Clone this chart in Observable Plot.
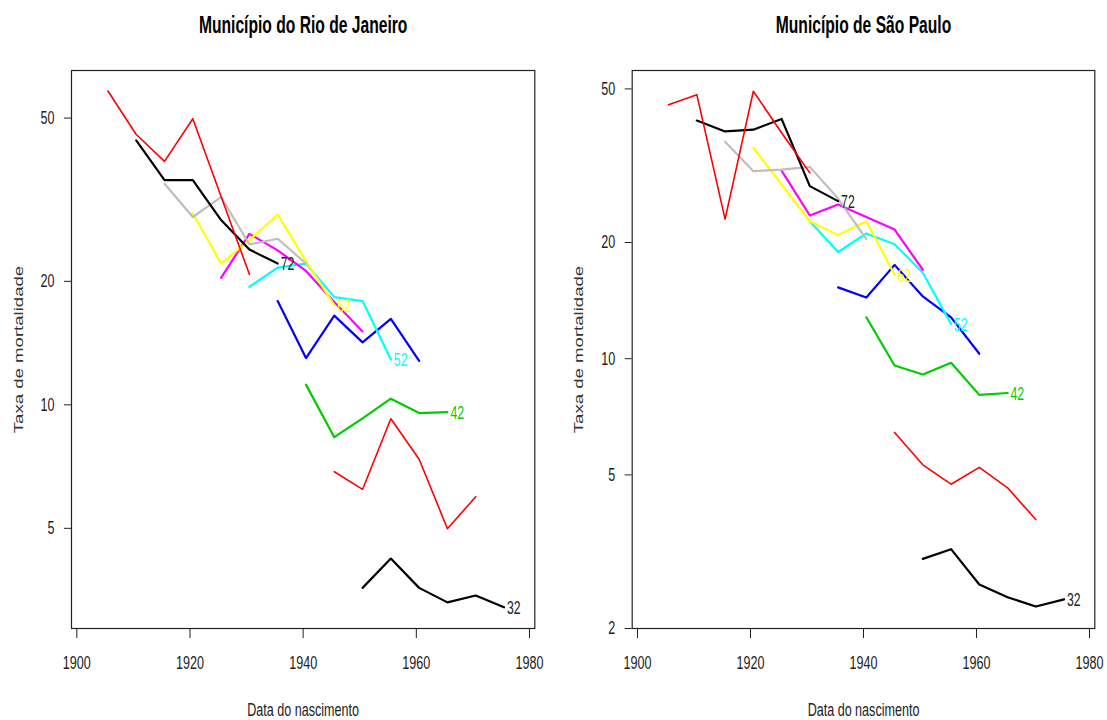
<!DOCTYPE html>
<html><head><meta charset="utf-8">
<script src="https://cdn.jsdelivr.net/npm/d3@7"></script>
<script src="https://cdn.jsdelivr.net/npm/@observablehq/plot@0.6"></script>
<style>
body{margin:0;background:#fff;}
#wrap{position:relative;width:1107px;height:720px;overflow:hidden;}
#left,#right{position:absolute;top:0;}
#left{left:0}
#right{left:553px}
</style></head><body><div id="wrap"><div id="left"></div><div id="right"></div></div>
<script>
// Age groups (series) and their R-palette colours
const ages = [32, 37, 42, 47, 52, 57, 62, 67, 72, 77];
const colors = ["#000000","#FF0000","#00CD00","#0000FF","#00FFFF","#FF00FF","#FFFF00","#BEBEBE","#000000","#FF0000"];
const labeledAges = [32, 42, 52, 62, 72];

// x tick labels (birth date) and y tick labels (mortality rate, log scale)
const xTicks = [1900, 1920, 1940, 1960, 1980];
const rioYTicks = [5, 10, 20, 50];
const spYTicks = [2, 5, 10, 20, 50];

// Município do Rio de Janeiro: [birth year, rate]
const rio32 = [[1950.5,3.58],[1955.5,4.22],[1960.5,3.58],[1965.5,3.30],[1970.5,3.43],[1975.5,3.21]];
const rio37 = [[1945.5,6.87],[1950.5,6.22],[1955.5,9.25],[1960.5,7.37],[1965.5,4.99],[1970.5,5.97]];
const rio42 = [[1940.5,11.2],[1945.5,8.34],[1950.5,9.27],[1955.5,10.35],[1960.5,9.55],[1965.5,9.6]];
const rio47 = [[1935.5,17.9],[1940.5,13.0],[1945.5,16.5],[1950.5,14.2],[1955.5,16.2],[1960.5,12.8]];
const rio52 = [[1930.5,19.4],[1935.5,21.6],[1940.5,22.1],[1945.5,18.3],[1950.5,17.9],[1955.5,12.9]];
const rio57 = [[1925.5,20.4],[1930.5,26.1],[1935.5,23.8],[1940.5,21.2],[1945.5,17.8],[1950.5,15.1]];
const rio62 = [[1920.5,29.3],[1925.5,22.1],[1930.5,25.2],[1935.5,29.1],[1940.5,22.4],[1945.5,17.5]];
const rio67 = [[1915.5,34.6],[1920.5,28.7],[1925.5,32.1],[1930.5,24.6],[1935.5,25.4],[1940.5,22.1]];
const rio72 = [[1910.5,44.1],[1915.5,35.3],[1920.5,35.3],[1925.5,28.2],[1930.5,23.9],[1935.5,22.1]];
const rio77 = [[1905.5,58.2],[1910.5,45.6],[1915.5,39.2],[1920.5,49.8],[1925.5,32.2],[1930.5,20.8]];

// Município de São Paulo: [birth year, rate]
const sp32 = [[1950.5,3.03],[1955.5,3.21],[1960.5,2.60],[1965.5,2.41],[1970.5,2.28],[1975.5,2.38]];
const sp37 = [[1945.5,6.44],[1950.5,5.31],[1955.5,4.73],[1960.5,5.23],[1965.5,4.63],[1970.5,3.83]];
const sp42 = [[1940.5,12.8],[1945.5,9.6],[1950.5,9.1],[1955.5,9.76],[1960.5,8.06],[1965.5,8.15]];
const sp47 = [[1935.5,15.3],[1940.5,14.4],[1945.5,17.5],[1950.5,14.5],[1955.5,12.8],[1960.5,10.3]];
const sp52 = [[1930.5,22.7],[1935.5,18.9],[1940.5,21.1],[1945.5,19.8],[1950.5,16.7],[1955.5,12.3]];
const sp57 = [[1925.5,30.7],[1930.5,23.5],[1935.5,25.1],[1940.5,23.3],[1945.5,21.6],[1950.5,17.0]];
const sp62 = [[1920.5,35.2],[1925.5,28.3],[1930.5,22.7],[1935.5,20.9],[1940.5,22.7],[1945.5,16.5]];
const sp67 = [[1915.5,36.5],[1920.5,30.6],[1925.5,30.9],[1930.5,31.4],[1935.5,26.0],[1940.5,20.4]];
const sp72 = [[1910.5,41.4],[1915.5,38.8],[1920.5,39.2],[1925.5,41.8],[1930.5,28.0],[1935.5,25.6]];
const sp77 = [[1905.5,45.5],[1910.5,48.3],[1915.5,23.0],[1920.5,49.3],[1925.5,38.5],[1930.5,30.3]];

const rioSeries = [rio32, rio37, rio42, rio47, rio52, rio57, rio62, rio67, rio72, rio77];
const spSeries = [sp32, sp37, sp42, sp47, sp52, sp57, sp62, sp67, sp72, sp77];

const FONT = "'Liberation Sans', Arial, sans-serif";
const SQUEEZE = 0.68; // the reference's text is horizontally condensed

function panel(series, yDomain, yTicks, title, width, ml, mr) {
  const marks = [];
  series.forEach((s, i) => {
    const rows = s.map(([year, value]) => ({year, value}));
    marks.push(Plot.line(rows, {x: "year", y: "value", stroke: colors[i], strokeWidth: colors[i] === "#FF0000" ? 1.6 : 2.2}));
    if (labeledAges.includes(ages[i])) {
      const last = rows[rows.length - 1];
      marks.push(Plot.text([last], {x: "year", y: "value", text: () => String(ages[i]), fill: colors[i] === "#000000" ? "#222" : colors[i], textAnchor: "start", dx: 3, dy: 1, fontSize: 18, fontFamily: FONT}));
    }
  });
  marks.push(Plot.frame({stroke: "#222", strokeWidth: 1.2}));
  marks.push(Plot.axisX({ticks: xTicks, tickFormat: d => String(d), tickSize: 10, tickPadding: 17, fontSize: 18.5, fontFamily: FONT, label: null, stroke: "#222", fill: "#222"}));
  marks.push(Plot.axisY({ticks: yTicks, tickFormat: d => String(d), tickSize: 7, tickPadding: 10, fontSize: 18.5, fontFamily: FONT, label: null, stroke: "#222", fill: "#222"}));
  marks.push(Plot.text([title], {frameAnchor: "top", textAnchor: "middle", lineAnchor: "middle", dy: -45, fontSize: 23, fontWeight: "bold", fontFamily: FONT, fill: "#000"}));
  marks.push(Plot.text(["Data do nascimento"], {frameAnchor: "bottom", textAnchor: "middle", lineAnchor: "middle", dy: 82, fontSize: 18.5, fontFamily: FONT, fill: "#222"}));
  marks.push(Plot.text(["Taxa de mortalidade"], {frameAnchor: "left", textAnchor: "middle", lineAnchor: "middle", dx: -53, rotate: -90, fontSize: 18.6, fontFamily: FONT, fill: "#333"}));
  return Plot.plot({
    width, height: 720,
    marginLeft: ml, marginRight: mr, marginTop: 70, marginBottom: 92,
    style: {background: "white", fontFamily: FONT},
    x: {domain: [1899.06, 1980.94]},
    y: {type: "log", domain: yDomain},
    marks
  });
}

// condense every text about its own anchor point
function squeeze(svg, f) {
  svg.querySelectorAll("text").forEach(t => {
    const tr = t.getAttribute("transform");
    if (tr) {
      t.setAttribute("transform", tr + (tr.includes("rotate") ? ` scale(1,${f})` : ` scale(${f},1)`));
    } else {
      const x = +(t.getAttribute("x") || 0), y = +(t.getAttribute("y") || 0);
      t.setAttribute("transform", `translate(${x},${y}) scale(${f},1) translate(${-x},${-y})`);
    }
  });
}

const leftSvg = panel(rioSeries, [2.85, 65.3], rioYTicks, "Município do Rio de Janeiro", 553, 71, 18.7);
document.getElementById("left").appendChild(leftSvg);
squeeze(leftSvg, SQUEEZE);
const rightSvg = panel(spSeries, [2.0, 55.8], spYTicks, "Município de São Paulo", 554, 78.7, 12.7);
document.getElementById("right").appendChild(rightSvg);
squeeze(rightSvg, SQUEEZE);
</script></body></html>
